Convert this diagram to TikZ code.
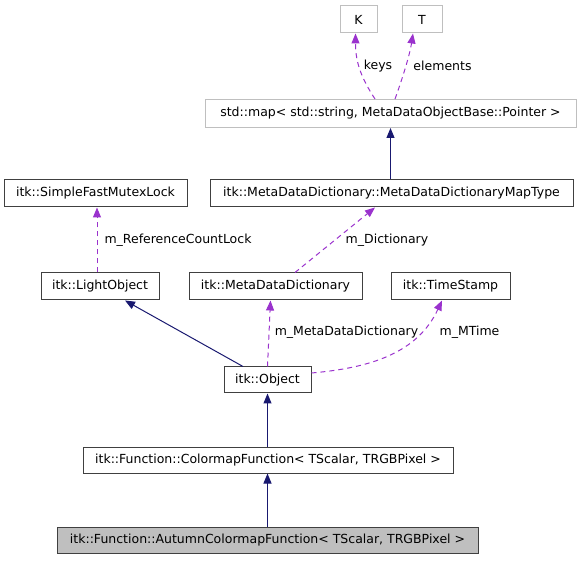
\documentclass[tikz,border=0pt]{standalone}
\usepackage{fontspec}
\setmainfont{DejaVu Sans}
\usetikzlibrary{arrows.meta}
\definecolor{navyedge}{HTML}{191970}
\definecolor{purpleedge}{HTML}{9A32CD}
\definecolor{graybox}{HTML}{BFBFBF}
\definecolor{darkframe}{HTML}{404040}
\begin{document}
\begin{tikzpicture}[x=1pt,y=1pt,
  txt/.style={font=\fontsize{12.5}{14}\selectfont},
  box/.style={txt, draw=darkframe, line width=1pt, inner sep=0pt, minimum height=27pt, fill=white},
  ghost/.style={box, draw=graybox},
  current/.style={box, fill=graybox},
  lbl/.style={txt, inner sep=0pt, anchor=center},
  inherit/.style={draw=navyedge, line width=1pt, -{Triangle[length=10pt,width=8pt]}, navyedge},
  member/.style={draw=purpleedge, line width=1pt, dash pattern=on 5pt off 4pt, -{Triangle[length=10pt,width=8pt]}, purpleedge}]
\useasboundingbox (0,0) rectangle (581,560);
% nodes
\node[ghost, minimum width=37pt] (K) at (358.5,540.5) {K};
\node[ghost, minimum width=40pt] (T) at (422,540.5) {T};
\node[ghost, minimum width=371pt, minimum height=28pt] (map) at (390.5,446.5) {std::map< std::string, MetaDataObjectBase::Pointer >};
\node[box, minimum width=363pt] (maptype) at (391.5,366.5) {itk::MetaDataDictionary::MetaDataDictionaryMapType};
\node[box, minimum width=183pt] (mutex) at (95.5,366.5) {itk::SimpleFastMutexLock};
\node[box, minimum width=118pt] (light) at (100,273.5) {itk::LightObject};
\node[box, minimum width=173pt] (mdd) at (275.5,273.5) {itk::MetaDataDictionary};
\node[box, minimum width=119pt] (ts) at (450.5,273.5) {itk::TimeStamp};
\node[box, minimum width=87pt, minimum height=26pt] (obj) at (267.5,180) {itk::Object};
\node[box, minimum width=370pt, minimum height=26pt] (cmap) at (268,100) {itk::Function::ColormapFunction< TScalar, TRGBPixel >};
\node[current, minimum width=421pt, minimum height=26pt] (autumn) at (267.5,20) {itk::Function::AutumnColormapFunction< TScalar, TRGBPixel >};
% labels
\node[lbl] (lkeys) at (378,494) {keys};
\node[lbl] (lelem) at (442.5,494) {elements};
\node[lbl] (lref) at (178,320) {m\_ReferenceCountLock};
\node[lbl] (ldict) at (387,320) {m\_Dictionary};
\node[lbl] (lmdd) at (346.5,227.5) {m\_MetaDataDictionary};
\node[lbl] (lmt) at (469.5,227.5) {m\_MTime};
% edges
\draw[member] ([xshift=-15.5pt]map.north) .. controls +(-13,20) and +(0,-30) .. ([xshift=-3pt]K.south);
\draw[member] ([xshift=4.5pt]map.north) .. controls +(8,22) and +(-3,-20) .. ([xshift=-9pt]T.south);
\draw[inherit] ([xshift=-1pt]maptype.north) -- ([xshift=-1pt]maptype.north |- map.south);
\draw[member] ([xshift=-3pt]light.north) -- ([xshift=-3pt]light.north |- mutex.south);
\draw[member] ([xshift=19.5pt]mdd.north) -- ([xshift=-16.5pt]maptype.south);
\draw[inherit] ([xshift=-24.5pt]obj.north) -- ([xshift=25pt]light.south);
\draw[member] (obj.north) -- ([xshift=-5pt]mdd.south);
\draw[member] ([yshift=7pt]obj.east) to[out=5,in=-115] ([xshift=-8.5pt]ts.south);
\draw[inherit] (obj.north |- cmap.north) -- (obj.south);
\draw[inherit] (obj.north |- autumn.north) -- (obj.north |- cmap.south);
\end{tikzpicture}
\end{document}
